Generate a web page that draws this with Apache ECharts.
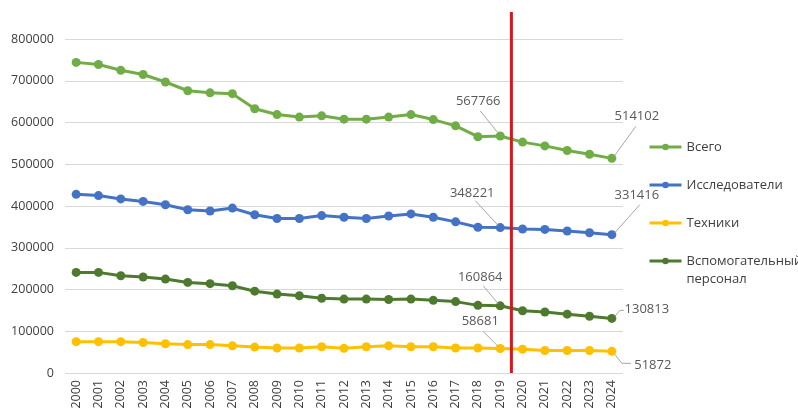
<!DOCTYPE html>
<html>
<head>
<meta charset="utf-8">
<script src="https://cdn.jsdelivr.net/npm/echarts@6/dist/echarts.min.js"></script>
<style>html,body{margin:0;padding:0;background:#fff;}#chart{width:798px;height:414px;}</style>
</head>
<body>
<div id="chart"></div>
<script>
const years = ['2000','2001','2002','2003','2004','2005','2006','2007','2008','2009','2010','2011','2012','2013','2014','2015','2016','2017','2018','2019','2020','2021','2022','2023','2024'];
const total = [744000,739000,725000,715000,697000,676000,671000,669000,633000,619000,613000,616000,608000,608000,613000,619000,607000,592000,566000,567766,553000,544000,533000,524000,514102];
const researchers = [428000,425000,417000,411000,403000,391000,388000,395000,379000,370000,370000,377000,373000,370000,376000,381000,373000,362000,349000,348221,345000,344000,340000,336000,331416];
const technicians = [75000,75000,75000,73000,70000,68000,68000,65000,62000,60000,60000,63000,59000,63000,65000,63000,63000,60000,60000,58681,57000,54000,54000,54000,51872];
const support = [241000,241000,233000,230000,225000,217000,214000,209000,196000,189000,185000,179000,177000,177000,176000,177000,174000,171000,162000,160864,149000,146000,141000,136000,130813];
const seriesNames = ['Всего','Исследователи','Техники','Вспомогательный персонал'];
const labeledIdx = [19, 24];
const dividerYear = 2019.5;

const colors = ['#70AD47','#4472C4','#FFC000','#4E7A2F'];
const FONT = 'Open Sans';
// annotation styling: label centre offset and leader points, relative to the data point (px)
const annoStyle = [
  {19:{l:[-22,-35], p:[[-20,-25],[-3,-4]]}, 24:{l:[25,-42], p:[[24,-32],[3,-3]]}},
  {19:{l:[-28,-34], p:[[-25,-27],[-2,-2]]}, 24:{l:[25,-39], p:[[28,-30],[3,-2]]}},
  {19:{l:[-20,-27], p:[[-17,-17],[-2,-2]]}, 24:{l:[41,14],  p:[[3,3],[10,12],[19,12]]}},
  {19:{l:[-20,-29], p:[[-17,-20],[-2,-2]]}, 24:{l:[35,-9],  p:[[3,-2],[8,-8],[12,-8]]}}
];
const allSeries = [total, researchers, technicians, support];
const annoData = [];
allSeries.forEach((arr,k)=> labeledIdx.forEach(i => annoData.push([i, arr[i], k])));

function mkSeries(name, arr, k){
  return {
    name: name, type:'line', data: arr, xAxisIndex:0, yAxisIndex:0,
    symbol:'circle', symbolSize:9,
    lineStyle:{width:3, color:colors[k]},
    itemStyle:{color:colors[k]},
    emphasis:{disabled:true},
    animation:false
  };
}
const legendCommon = {
  orient:'vertical', left:643, itemGap:20, itemWidth:32, itemHeight:8,
  textStyle:{color:'#404040', fontFamily:FONT, fontSize:13, lineHeight:18},
  lineStyle:{width:3},
  selectedMode:false
};
const chart = echarts.init(document.getElementById('chart'));
chart.setOption({
  animation:false,
  grid:[
    {left:65, right:175, top:39, bottom:41},
    {left:65, right:175, top:12, bottom:41}
  ],
  xAxis:[
    {type:'category', data:years, gridIndex:0, boundaryGap:true,
     axisLine:{show:false}, axisTick:{show:false},
     axisLabel:{rotate:90, color:'#404040', fontFamily:FONT, fontSize:12.5, margin:7, interval:0}},
    {type:'value', gridIndex:1, min:1999.5, max:2024.5, show:false}
  ],
  yAxis:[
    {type:'value', gridIndex:0, min:0, max:800000, interval:100000,
     axisLine:{show:false}, axisTick:{show:false},
     axisLabel:{color:'#404040', fontFamily:FONT, fontSize:12.5, margin:11, formatter: v => String(v)},
     splitLine:{lineStyle:{color:'#d9d9d9', width:1}}},
    {type:'value', gridIndex:1, min:0, max:1, show:false}
  ],
  legend:[
    Object.assign({}, legendCommon, {top:133, data: seriesNames.slice(0,3)}),
    Object.assign({}, legendCommon, {top:229, data: [seriesNames[3]],
      formatter: n => '\n' + n.replace(' ', '\n')})
  ],
  series:[
    mkSeries(seriesNames[0], total, 0),
    mkSeries(seriesNames[1], researchers, 1),
    mkSeries(seriesNames[2], technicians, 2),
    mkSeries(seriesNames[3], support, 3),
    {type:'line', xAxisIndex:1, yAxisIndex:1, data:[[dividerYear,0],[dividerYear,1]],
     symbol:'none', lineStyle:{color:'#E0141E', width:3}, silent:true, z:5, animation:false},
    {type:'custom', name:'labels', xAxisIndex:0, yAxisIndex:0, data: annoData, z:6, silent:true,
     renderItem: function(params, api){
       const i = api.value(0), v = api.value(1), k = api.value(2);
       const pt = api.coord([i, v]);
       const s = annoStyle[k][i];
       return {type:'group', children:[
         {type:'polyline', shape:{points: s.p.map(q => [pt[0]+q[0], pt[1]+q[1]])},
          style:{stroke:'#a6a6a6', lineWidth:1, fill:null}},
         {type:'text', x: pt[0]+s.l[0], y: pt[1]+s.l[1],
          style:{text: String(v), fill:'#595959', font: '13px "' + FONT + '"', align:'center', verticalAlign:'middle'}}
       ]};
     }}
  ]
});
</script>
</body>
</html>
